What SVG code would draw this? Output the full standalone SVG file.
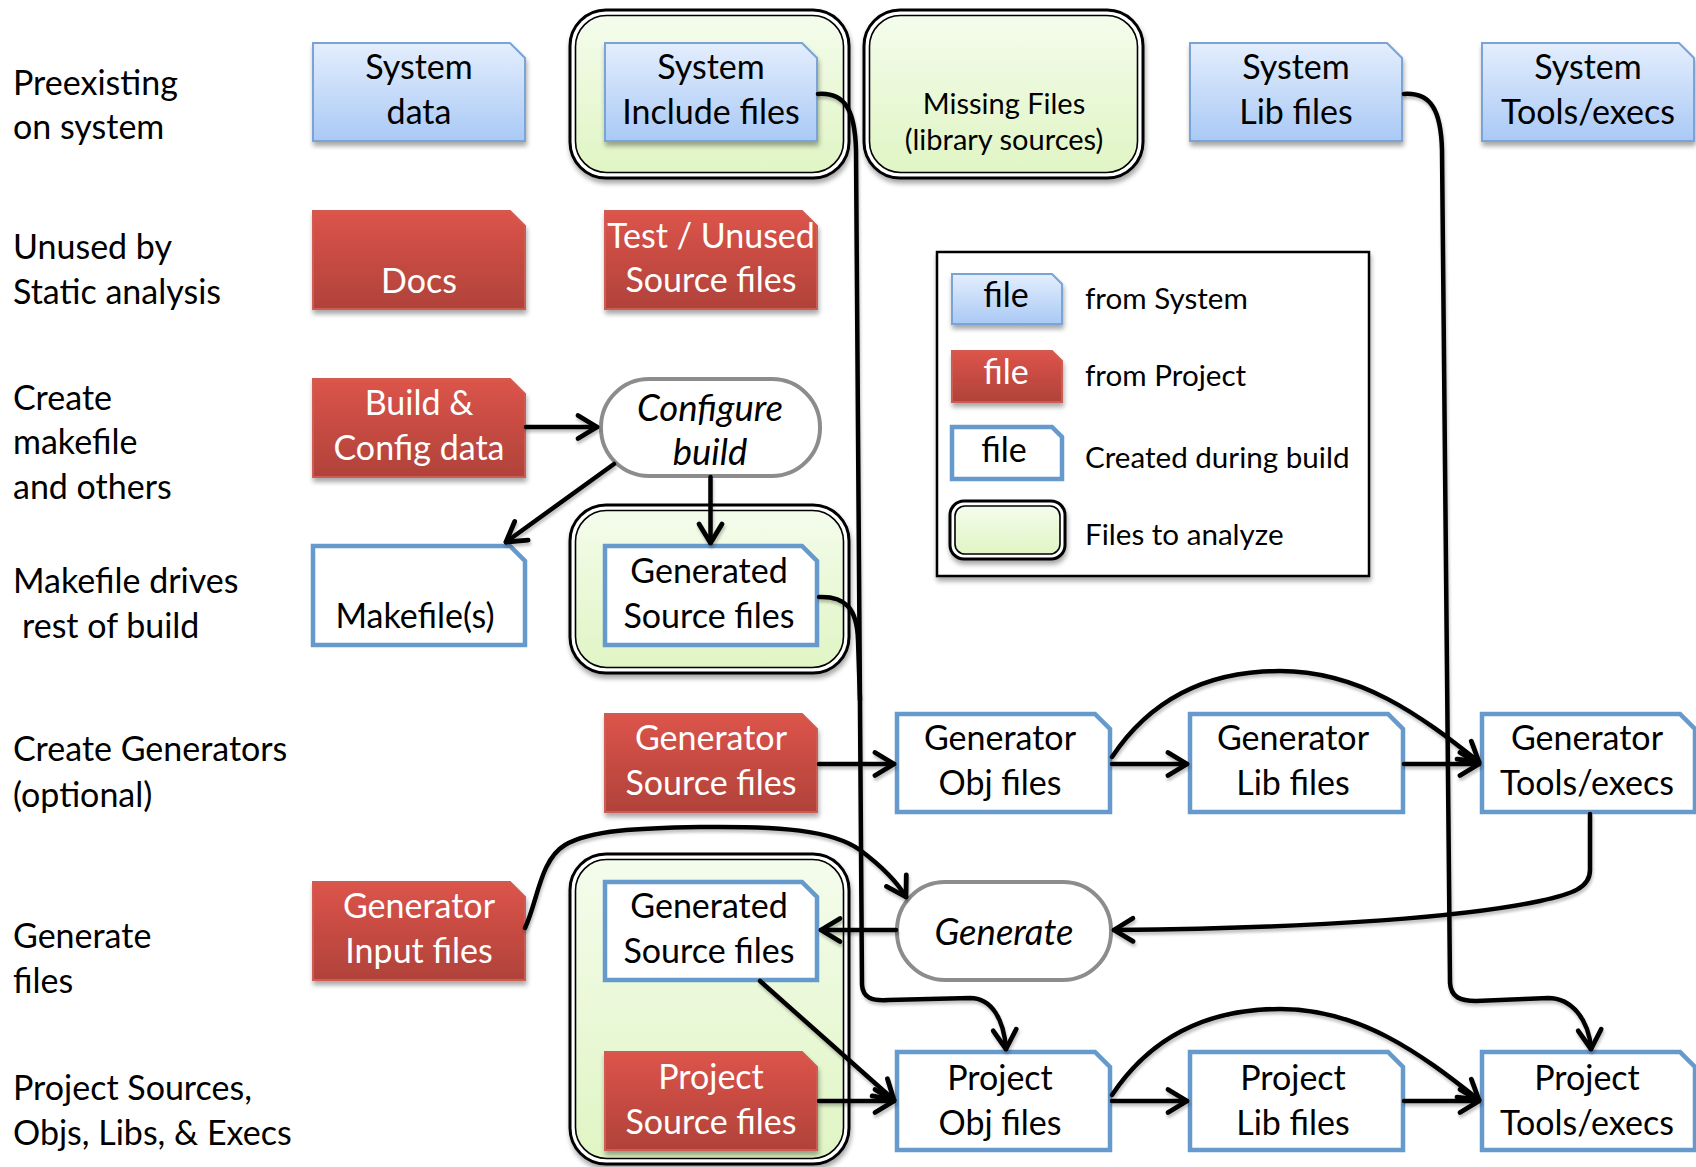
<svg xmlns="http://www.w3.org/2000/svg" width="1696" height="1167" viewBox="0 0 1696 1167">
  <style>
    text { font-family: "Lato", "Liberation Sans", sans-serif; }
    .lbl { font-size: 34px; fill: #000; }
    .bt { font-size: 34px; text-anchor: middle; fill: #000; }
    .wt { font-size: 34px; text-anchor: middle; fill: #fff; }
    .it { font-size: 36.5px; text-anchor: middle; font-style: italic; fill: #000; }
    .sm { font-size: 29.6px; fill: #000; }
    .smc { font-size: 29px; text-anchor: middle; fill: #000; }
    .sys { fill: url(#blueGrad); stroke: #7aa3d6; stroke-width: 2; filter: url(#shadow); }
    .prj { fill: url(#redGrad); stroke: #cf5b53; stroke-width: 2; filter: url(#shadow); }
    .gen { fill: #fff; stroke: #6699cc; stroke-width: 4.5; }
    .proc { fill: #fff; stroke: #8c8c8c; stroke-width: 4; }
    .outer { fill: #fff; stroke: #000; stroke-width: 3; filter: url(#shadow); }
    .inner { fill: url(#greenGrad); stroke: #000; stroke-width: 1.6; }
    .wire { fill: none; stroke: #000; stroke-width: 4.5; stroke-linecap: round; stroke-linejoin: round; }
    .arrow { marker-end: url(#arr); }
  </style>
  <defs>
    <linearGradient id="blueGrad" x1="0" y1="0" x2="0" y2="1">
      <stop offset="0" stop-color="#e4eefd"/>
      <stop offset="1" stop-color="#a9c9f5"/>
    </linearGradient>
    <linearGradient id="redGrad" x1="0" y1="0" x2="0" y2="1">
      <stop offset="0" stop-color="#dc544a"/>
      <stop offset="1" stop-color="#b0423a"/>
    </linearGradient>
    <linearGradient id="greenGrad" x1="0" y1="0" x2="0" y2="1">
      <stop offset="0" stop-color="#f4fcec"/>
      <stop offset="1" stop-color="#e0f5c4"/>
    </linearGradient>
    <filter id="shadow" x="-10%" y="-10%" width="125%" height="130%">
      <feGaussianBlur in="SourceAlpha" stdDeviation="2.5"/>
      <feOffset dx="1" dy="4" result="off"/>
      <feComponentTransfer><feFuncA type="linear" slope="0.35"/></feComponentTransfer>
      <feMerge><feMergeNode/><feMergeNode in="SourceGraphic"/></feMerge>
    </filter>
    <filter id="lineShadow" x="-5%" y="-5%" width="110%" height="110%">
      <feGaussianBlur in="SourceAlpha" stdDeviation="1.5"/>
      <feOffset dx="1" dy="3" result="off"/>
      <feComponentTransfer><feFuncA type="linear" slope="0.25"/></feComponentTransfer>
      <feMerge><feMergeNode/><feMergeNode in="SourceGraphic"/></feMerge>
    </filter>
    <marker id="arr" markerUnits="userSpaceOnUse" viewBox="-24 -14 28 28" markerWidth="28" markerHeight="28" refX="0" refY="0" orient="auto" overflow="visible">
      <path d="M-19,-11.5 L0,0 L-19,11.5" fill="none" stroke="#000" stroke-width="4.8" stroke-linecap="round" stroke-linejoin="round"/>
    </marker>
  </defs>

  <rect width="1696" height="1167" fill="#fff"/>

  <!-- row captions -->
  <g id="captions">
    <text class="lbl" x="13" y="95">Preexisting</text>
    <text class="lbl" x="13" y="139">on system</text>
    <text class="lbl" x="13" y="259">Unused by</text>
    <text class="lbl" x="13" y="304">Static analysis</text>
    <text class="lbl" x="13" y="410">Create</text>
    <text class="lbl" x="13" y="454">makefile</text>
    <text class="lbl" x="13" y="499">and others</text>
    <text class="lbl" x="13" y="593">Makefile drives</text>
    <text class="lbl" x="22" y="638">rest of build</text>
    <text class="lbl" x="13" y="761">Create Generators</text>
    <text class="lbl" x="13" y="807">(optional)</text>
    <text class="lbl" x="13" y="948">Generate</text>
    <text class="lbl" x="13" y="993">files</text>
    <text class="lbl" x="13" y="1100">Project Sources,</text>
    <text class="lbl" x="13" y="1145">Objs, Libs, &amp; Execs</text>
  </g>

  <!-- containers for files to analyze -->
  <g id="analyze-include">
    <rect class="outer" x="570" y="10" width="279" height="168" rx="36"/>
    <rect class="inner" x="575.5" y="15.5" width="268" height="157" rx="31"/>
  </g>
  <g id="analyze-missing">
    <rect class="outer" x="864" y="10" width="279" height="168" rx="36"/>
    <rect class="inner" x="869.5" y="15.5" width="268" height="157" rx="31"/>
    <text class="smc" x="1004" y="114">Missing Files</text>
    <text class="smc" x="1004" y="150">(library sources)</text>
  </g>
  <g id="analyze-generated">
    <rect class="outer" x="570" y="505" width="279" height="168" rx="36"/>
    <rect class="inner" x="575.5" y="510.5" width="268" height="157" rx="31"/>
  </g>
  <g id="analyze-sources">
    <rect class="outer" x="570" y="854" width="279" height="310" rx="36"/>
    <rect class="inner" x="575.5" y="859.5" width="268" height="299" rx="31"/>
  </g>

  <!-- system files -->
  <g id="system-data">
    <path class="sys" d="M313,43 H510 L525,58 V141 H313 Z"/>
    <text class="bt" x="419" y="79">System</text>
    <text class="bt" x="419" y="124">data</text>
  </g>
  <g id="system-include">
    <path class="sys" d="M605,43 H802 L817,58 V141 H605 Z"/>
    <text class="bt" x="711" y="79">System</text>
    <text class="bt" x="711" y="124">Include files</text>
  </g>
  <g id="system-lib">
    <path class="sys" d="M1190,43 H1387 L1402,58 V141 H1190 Z"/>
    <text class="bt" x="1296" y="79">System</text>
    <text class="bt" x="1296" y="124">Lib files</text>
  </g>
  <g id="system-tools">
    <path class="sys" d="M1482,43 H1679 L1694,58 V141 H1482 Z"/>
    <text class="bt" x="1588" y="79">System</text>
    <text class="bt" x="1588" y="124">Tools/execs</text>
  </g>

  <!-- project files -->
  <g id="docs">
    <path class="prj" d="M313,211 H510 L525,226 V309 H313 Z"/>
    <text class="wt" x="419" y="293">Docs</text>
  </g>
  <g id="test-unused">
    <path class="prj" d="M605,211 H802 L817,226 V309 H605 Z"/>
    <text class="wt" x="711" y="248">Test / Unused</text>
    <text class="wt" x="711" y="292">Source files</text>
  </g>
  <g id="build-config">
    <path class="prj" d="M313,379 H510 L525,394 V477 H313 Z"/>
    <text class="wt" x="419" y="415">Build &amp;</text>
    <text class="wt" x="419" y="460">Config data</text>
  </g>
  <g id="generator-source">
    <path class="prj" d="M605,714 H802 L817,729 V812 H605 Z"/>
    <text class="wt" x="711" y="750">Generator</text>
    <text class="wt" x="711" y="795">Source files</text>
  </g>
  <g id="generator-input">
    <path class="prj" d="M313,882 H510 L525,897 V980 H313 Z"/>
    <text class="wt" x="419" y="918">Generator</text>
    <text class="wt" x="419" y="963">Input files</text>
  </g>
  <g id="project-source">
    <path class="prj" d="M605,1052 H802 L817,1067 V1150 H605 Z"/>
    <text class="wt" x="711" y="1089">Project</text>
    <text class="wt" x="711" y="1134">Source files</text>
  </g>

  <!-- processes -->
  <g id="configure-build">
    <rect class="proc" x="601" y="379" width="219" height="97" rx="48" ry="48"/>
    <text class="it" x="710" y="421">Configure</text>
    <text class="it" x="710" y="465">build</text>
  </g>
  <g id="generate">
    <rect class="proc" x="897" y="882" width="214" height="98" rx="48" ry="48"/>
    <text class="it" x="1004" y="945">Generate</text>
  </g>

  <!-- files created during the build -->
  <g id="makefiles">
    <path class="gen" d="M313,546 H510 L525,561 V645 H313 Z"/>
    <text class="bt" x="415" y="628">Makefile(s)</text>
  </g>
  <g id="generated-source-1">
    <path class="gen" d="M605,546 H802 L817,561 V645 H605 Z"/>
    <text class="bt" x="709" y="583">Generated</text>
    <text class="bt" x="709" y="628">Source files</text>
  </g>
  <g id="generator-obj">
    <path class="gen" d="M897,714 H1095 L1110,729 V812 H897 Z"/>
    <text class="bt" x="1000" y="750">Generator</text>
    <text class="bt" x="1000" y="795">Obj files</text>
  </g>
  <g id="generator-lib">
    <path class="gen" d="M1190,714 H1388 L1403,729 V812 H1190 Z"/>
    <text class="bt" x="1293" y="750">Generator</text>
    <text class="bt" x="1293" y="795">Lib files</text>
  </g>
  <g id="generator-tools">
    <path class="gen" d="M1482,714 H1680 L1695,729 V812 H1482 Z"/>
    <text class="bt" x="1587" y="750">Generator</text>
    <text class="bt" x="1587" y="795">Tools/execs</text>
  </g>
  <g id="generated-source-2">
    <path class="gen" d="M605,882 H802 L817,897 V980 H605 Z"/>
    <text class="bt" x="709" y="918">Generated</text>
    <text class="bt" x="709" y="963">Source files</text>
  </g>
  <g id="project-obj">
    <path class="gen" d="M897,1052 H1095 L1110,1067 V1150 H897 Z"/>
    <text class="bt" x="1000" y="1090">Project</text>
    <text class="bt" x="1000" y="1135">Obj files</text>
  </g>
  <g id="project-lib">
    <path class="gen" d="M1190,1052 H1388 L1403,1067 V1150 H1190 Z"/>
    <text class="bt" x="1293" y="1090">Project</text>
    <text class="bt" x="1293" y="1135">Lib files</text>
  </g>
  <g id="project-tools">
    <path class="gen" d="M1482,1052 H1680 L1695,1067 V1150 H1482 Z"/>
    <text class="bt" x="1587" y="1090">Project</text>
    <text class="bt" x="1587" y="1135">Tools/execs</text>
  </g>

  <!-- legend -->
  <g id="legend">
    <rect x="937" y="252" width="432" height="324" fill="#fff" stroke="#000" stroke-width="2.5" filter="url(#shadow)"/>
    <path class="sys" d="M952,274 H1052 L1062,284 V324 H952 Z"/>
    <text class="bt" x="1006" y="307">file</text>
    <text class="sm" x="1085" y="309">from System</text>
    <path class="prj" d="M952,351 H1052 L1062,361 V402 H952 Z"/>
    <text class="wt" x="1006" y="384">file</text>
    <text class="sm" x="1085" y="386">from Project</text>
    <path class="gen" d="M952,427 H1052 L1062,437 V479 H952 Z"/>
    <text class="bt" x="1004" y="462">file</text>
    <text class="sm" x="1085" y="468">Created during build</text>
    <rect class="outer" x="950" y="501" width="115" height="58" rx="14"/>
    <rect class="inner" x="955" y="506" width="105" height="48" rx="10"/>
    <text class="sm" x="1085" y="545">Files to analyze</text>
  </g>

  <!-- connectors -->
  <g id="connectors" filter="url(#lineShadow)">
    <path class="wire arrow" d="M818,94 C846,92 855,112 856,150 L862,985 C863,998 872,1001 888,1000 L970,998 C992,998 1004,1020 1006,1049"/>
    <path class="wire" d="M819,597 C845,596 857,608 858,640 L860,700"/>
    <path class="wire arrow" d="M1404,94 C1432,92 1441,112 1442,150 L1450,983 C1451,997 1460,1001 1476,1001 L1548,998 C1572,998 1589,1020 1591,1049"/>
    <path class="wire arrow" d="M526,427 L597,427"/>
    <path class="wire arrow" d="M614,464 L506,542"/>
    <path class="wire arrow" d="M710.5,477 L710.5,543"/>
    <path class="wire arrow" d="M819,764 L894,764"/>
    <path class="wire arrow" d="M1112,764 L1187,764"/>
    <path class="wire arrow" d="M1404,764 L1479,764"/>
    <path class="wire arrow" d="M1112,757 C1150,700 1205,671 1280,671 C1360,671 1420,715 1479,762"/>
    <path class="wire arrow" d="M1590,814 L1590,870 C1590,888 1572,894 1540,901 C1470,916 1330,928 1114,930"/>
    <path class="wire arrow" d="M525,928 C538,900 540,860 565,845 C590,830 640,828 700,827 C780,826 832,830 860,850 C880,865 896,880 906,897"/>
    <path class="wire arrow" d="M896,930 L821,930"/>
    <path class="wire arrow" d="M760,981 L894,1100"/>
    <path class="wire arrow" d="M819,1101 L894,1101"/>
    <path class="wire arrow" d="M1112,1101 L1187,1101"/>
    <path class="wire arrow" d="M1404,1101 L1479,1101"/>
    <path class="wire arrow" d="M1112,1095 C1150,1038 1205,1009 1280,1009 C1360,1009 1420,1053 1479,1100"/>
  </g>
</svg>
